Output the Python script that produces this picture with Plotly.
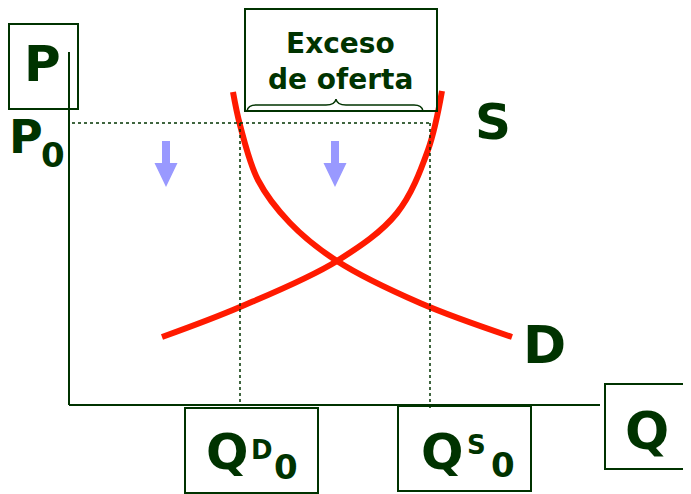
import plotly.graph_objects as go

# ---- data (economic coordinates: Q to the right, P upwards) ----
supply_q = [93, 171, 268, 328, 359, 373]
supply_p = [68, 98, 144, 192, 255, 314]

demand_q = [164, 171, 189, 221, 268, 351, 443]
demand_p = [313, 280, 225, 182, 144, 102, 68]

p0 = 282      # price above equilibrium
qd0 = 171     # quantity demanded at P0
qs0 = 361     # quantity supplied at P0

# helpers: pixel -> data coordinate (origin of axes at pixel (69, 405))
def X(px):
    return px - 69

def Y(py):
    return 405 - py

GREEN = "#003300"
RED = "#ff1a00"
ARROW = "#9999ff"
FONT = "DejaVu Sans"

fig = go.Figure()
fig.add_trace(go.Scatter(x=supply_q, y=supply_p, mode="lines",
                         line=dict(color=RED, width=6, shape="spline", smoothing=1.0),
                         hoverinfo="skip", showlegend=False))
fig.add_trace(go.Scatter(x=demand_q, y=demand_p, mode="lines",
                         line=dict(color=RED, width=6, shape="spline", smoothing=1.0),
                         hoverinfo="skip", showlegend=False))

shapes = []
# axes
shapes.append(dict(type="line", x0=0, y0=0, x1=0, y1=Y(52), line=dict(color=GREEN, width=2)))
shapes.append(dict(type="line", x0=0, y0=0, x1=X(600), y1=0, line=dict(color=GREEN, width=2)))
# dotted guide lines
shapes.append(dict(type="line", x0=X(72), y0=p0, x1=qs0, y1=p0, line=dict(color=GREEN, width=1.5, dash="dot")))
shapes.append(dict(type="line", x0=qd0, y0=p0, x1=qd0, y1=0, line=dict(color=GREEN, width=1.5, dash="dot")))
shapes.append(dict(type="line", x0=qs0, y0=p0, x1=qs0, y1=Y(410), line=dict(color=GREEN, width=1.5, dash="dot")))

# boxes
def box(x0, y0, x1, y1):
    return dict(type="rect", x0=X(x0), y0=Y(y0), x1=X(x1), y1=Y(y1),
                line=dict(color=GREEN, width=2), fillcolor="rgba(0,0,0,0)")

shapes.append(box(9, 24, 78, 109))
shapes.append(box(245, 9, 437, 111))
shapes.append(box(605, 384, 700, 469))
shapes.append(box(185, 408, 318, 493))
shapes.append(box(398, 406, 531, 491))

# brace
pts = [("M", 247, 111), ("Q", 248, 105, 256, 105), ("L", 326, 105), ("Q", 335, 105, 336, 99),
       ("Q", 337, 105, 346, 105), ("L", 414, 105), ("Q", 422, 105, 423, 111)]
path = ""
for p in pts:
    cmd = p[0]
    coords = p[1:]
    s = cmd
    for i in range(0, len(coords), 2):
        s += f" {X(coords[i])},{Y(coords[i+1])}"
    path += s + " "
shapes.append(dict(type="path", path=path.strip(), line=dict(color=GREEN, width=1.5)))

# down arrows
def arrow(cx):
    p = [(cx - 4, 141), (cx + 4, 141), (cx + 4, 163), (cx + 11.5, 163), (cx, 187),
         (cx - 11.5, 163), (cx - 4, 163)]
    d = "M " + " L ".join(f"{X(a)},{Y(b)}" for a, b in p) + " Z"
    return dict(type="path", path=d, fillcolor=ARROW, line=dict(color=ARROW, width=0))

shapes.append(arrow(166))
shapes.append(arrow(335))

ann = []
def text(t, px, py, size):
    ann.append(dict(x=X(px), y=Y(py), text=t, showarrow=False, xanchor="center", yanchor="middle",
                    font=dict(family=FONT, size=size, color=GREEN, weight="bold")))

text("P", 42, 64, 50)
text("P", 26, 137, 46)
text("0", 53, 155, 34)
text("Exceso", 340, 43, 28)
text("de oferta", 340, 79, 28)
text("S", 493, 122, 50)
text("D", 544, 345, 52)
text("Q", 647, 431, 52)
text("Q", 227, 452, 50)
text("D", 262, 450, 26)
text("0", 286, 467, 34)
text("Q", 442, 452, 50)
text("S", 476, 445, 26)
text("0", 503, 465, 34)

# the page body has an 8px margin: the figure covers pixels 8..691 x 8..494
fig.update_layout(
    width=683, height=486,
    margin=dict(l=0, r=0, t=0, b=0),
    paper_bgcolor="white", plot_bgcolor="white",
    xaxis=dict(range=[X(8), X(691)], visible=False, fixedrange=True),
    yaxis=dict(range=[Y(494), Y(8)], visible=False, fixedrange=True),
    shapes=shapes, annotations=ann, showlegend=False,
)
fig.write_html("out.html")
